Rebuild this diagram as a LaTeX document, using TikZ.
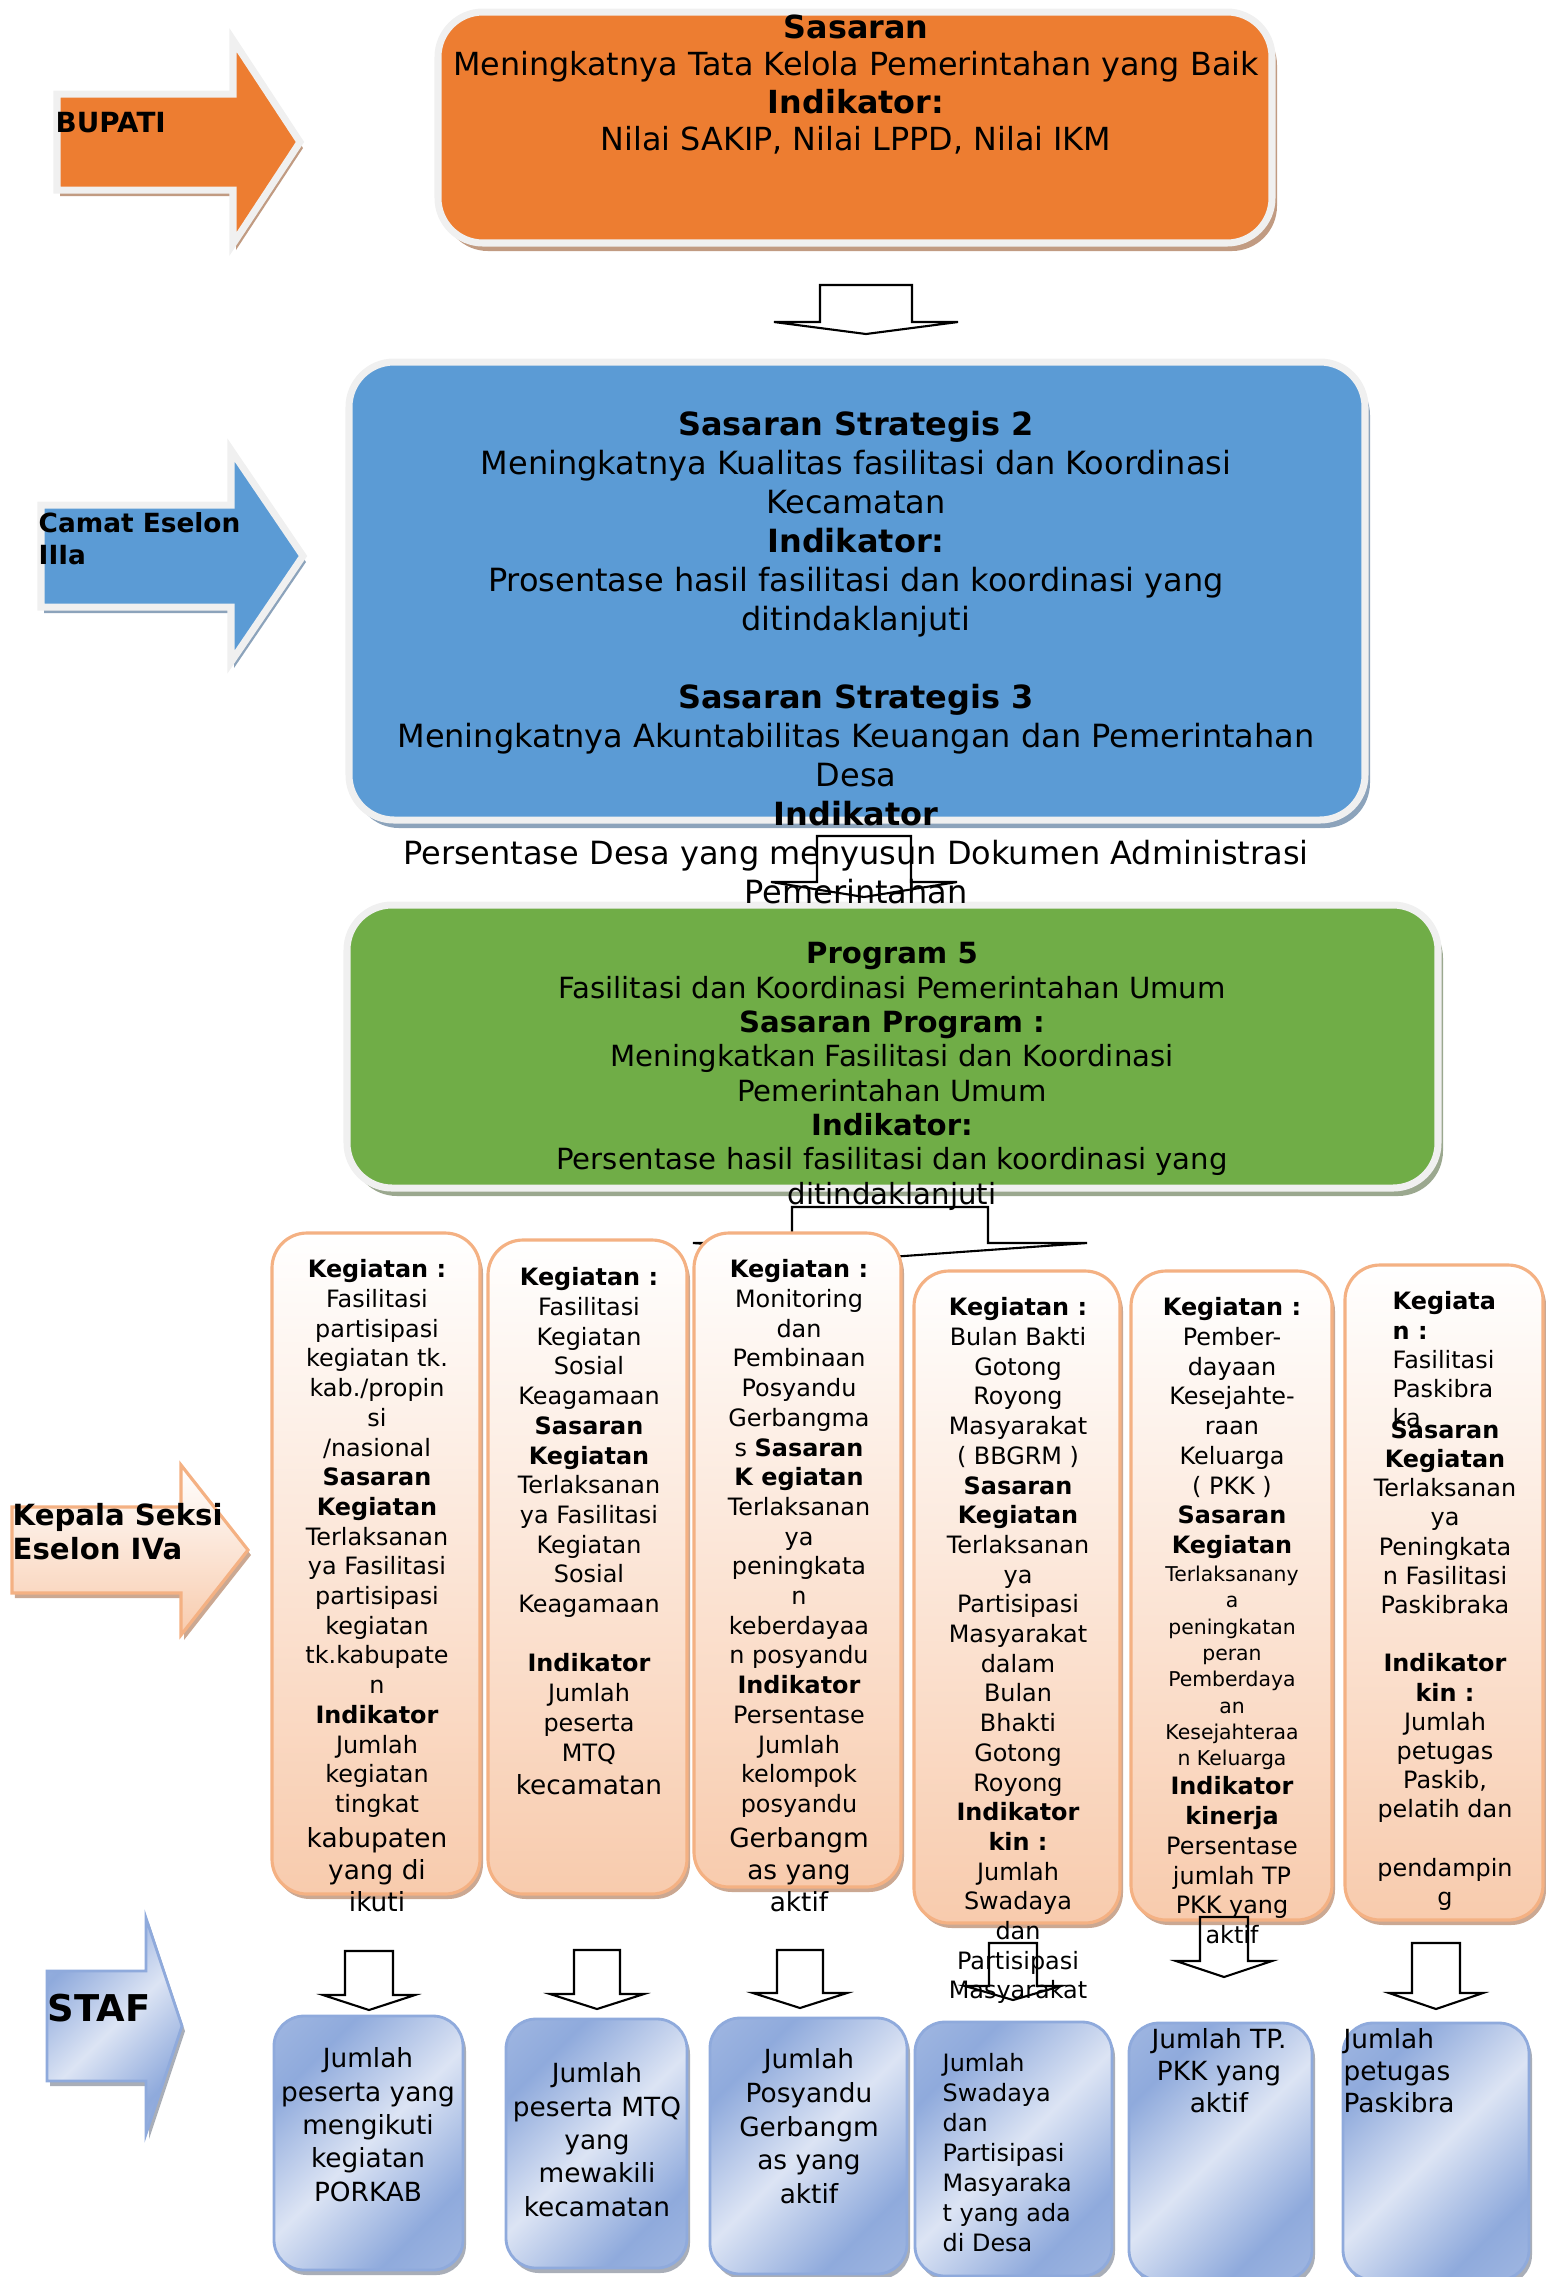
\documentclass[tikz,border=0pt]{standalone}
\usepackage{fontspec}
\setmainfont{DejaVu Sans}
\usetikzlibrary{shadows}

\definecolor{oranye}{HTML}{ED7D31}
\definecolor{oranyebayang}{HTML}{C19B82}
\definecolor{biru}{HTML}{5B9BD5}
\definecolor{birubayang}{HTML}{8CA3BB}
\definecolor{hijau}{HTML}{70AD47}
\definecolor{hijaubayang}{HTML}{9BA88F}
\definecolor{tepi}{HTML}{F0F0F0}
\definecolor{persik}{HTML}{F8CBAD}
\definecolor{persikgaris}{HTML}{F4B183}
\definecolor{persikbayang}{HTML}{CBA892}
\definecolor{stafgelap}{HTML}{8FAADC}
\definecolor{stafterang}{HTML}{DCE4F4}
\definecolor{stafbayang}{HTML}{A9AEB8}

\pgfdeclarehorizontalshading{stafshade}{100bp}{%
  color(0bp)=(stafgelap!55!stafterang); color(28bp)=(stafgelap);
  color(50bp)=(stafterang); color(72bp)=(stafgelap);
  color(100bp)=(stafgelap!55!stafterang)}

\newcommand{\ukuran}[2]{\fontsize{#1}{#2}\selectfont}
\newcommand{\besar}{\ukuran{7.5}{9}}
\newcommand{\kecil}{\ukuran{5.8}{7.5}}

% hollow block arrow pointing down: centre x, stem top, head base, tip, stem half width, head half width
\newcommand{\hollowdown}[6]{%
  \draw[garispanah] (#1-#5,#2) -- (#1+#5,#2) -- (#1+#5,#3) -- (#1+#6,#3)
    -- (#1,#4) -- (#1-#6,#3) -- (#1-#5,#3) -- cycle;}
% side arrow: style, body left, head start, tip, centre y, body half height, head half height
\newcommand{\sidearrow}[7]{%
  \draw[#1] (#2,#5-#6) -- (#3,#5-#6) -- (#3,#5-#7) -- (#4,#5)
    -- (#3,#5+#7) -- (#3,#5+#6) -- (#2,#5+#6) -- cycle;}

\tikzset{
  kotakbesar/.style={rectangle, rounded corners=4.5mm, draw=tepi, line width=2pt, inner sep=0pt},
  kotaksasaran/.style={kotakbesar, fill=oranye,
    drop shadow={shadow xshift=0.5mm, shadow yshift=-0.8mm, fill=oranyebayang, opacity=1}},
  kotakstrategis/.style={kotakbesar, fill=biru,
    drop shadow={shadow xshift=0.5mm, shadow yshift=-0.8mm, fill=birubayang, opacity=1}},
  kotakprogram/.style={kotakbesar, fill=hijau,
    drop shadow={shadow xshift=0.5mm, shadow yshift=-0.8mm, fill=hijaubayang, opacity=1}},
  kotakkegiatan/.style={rectangle, rounded corners=3.5mm, draw=persikgaris, line width=0.9pt,
    top color=white, bottom color=persik, inner sep=0pt,
    drop shadow={shadow xshift=0.3mm, shadow yshift=-0.5mm, fill=persikbayang, opacity=1}},
  kotakstaf/.style={rectangle, rounded corners=3mm, draw=stafgelap, line width=0.8pt,
    shade, shading=stafshade, shading angle=-45, inner sep=0pt,
    drop shadow={shadow xshift=0.3mm, shadow yshift=-0.5mm, fill=stafbayang, opacity=1}},
  panahbupati/.style={fill=oranye, draw=tepi, line width=2pt,
    drop shadow={shadow xshift=0.3mm, shadow yshift=-0.6mm, fill=oranyebayang, opacity=1}},
  panahcamat/.style={fill=biru, draw=tepi, line width=2pt,
    drop shadow={shadow xshift=0.3mm, shadow yshift=-0.6mm, fill=birubayang, opacity=1}},
  panahkasi/.style={top color=white, bottom color=persik, draw=persikgaris, line width=0.9pt,
    drop shadow={shadow xshift=0.3mm, shadow yshift=-0.5mm, fill=persikbayang, opacity=1}},
  panahstaf/.style={shade, shading=stafshade, shading angle=-45, draw=stafgelap, line width=0.8pt,
    drop shadow={shadow xshift=0.3mm, shadow yshift=-0.5mm, fill=stafbayang, opacity=1}},
  garispanah/.style={draw=black, line width=0.6pt},
  jabatan/.style={inner sep=0pt, align=left, anchor=north west},
  isi/.style={inner sep=0pt, align=center, anchor=north},
  isikiri/.style={inner sep=0pt, align=left, anchor=north west},
}

\begin{document}
\begin{tikzpicture}[x=0.1mm, y=-0.1mm]
  \useasboundingbox (0,0) rectangle (1546,2277);

  % arrows of the officials
  \sidearrow{panahbupati}{57}{233}{300}{142}{48}{102}
  \sidearrow{panahcamat}{41}{231}{303}{556}{51}{106}
  \sidearrow{panahkasi}{12}{181}{248}{1550}{43}{85}
  \sidearrow{panahstaf}{47}{146}{182}{2026}{55}{108}

  \node[jabatan, font={\bfseries\ukuran{7.9}{9}}] (bupati) at (55,112) {BUPATI};
  \node[jabatan, font={\bfseries\ukuran{7.5}{9}}] (camat) at (38,512) {Camat Eselon\\IIIa};
  \node[jabatan, font={\bfseries\ukuran{8.3}{9.5}}] (kasi) at (12,1503) {Kepala Seksi\\Eselon IVa};
  \node[jabatan, font={\bfseries\ukuran{10.5}{12}}] (staf) at (47,1993) {STAF};

  % sasaran bupati
  \node[kotaksasaran, minimum width=83.4mm, minimum height=23.1mm] (sasaran) at (855,127.5) {};
  \node[isi, font={\ukuran{9.05}{10.67}}] (sasaran-isi) at (856,14)
    {\textbf{Sasaran}\\ Meningkatnya Tata Kelola Pemerintahan yang Baik\\
     \textbf{Indikator:}\\ Nilai SAKIP, Nilai LPPD, Nilai IKM};
  \hollowdown{866}{285}{322}{334}{46}{92}

  % sasaran strategis and program boxes
  \node[kotakstrategis, minimum width=101.6mm, minimum height=45.8mm] (strategis) at (857,591) {};
  \node[kotakprogram, minimum width=109.1mm, minimum height=28.3mm] (program) at (892.5,1046.5) {};

  \node[isi, font={\ukuran{9.1}{11.1}}] (strategis-isi) at (856,410)
    {\textbf{Sasaran Strategis 2}\\ Meningkatnya Kualitas fasilitasi dan Koordinasi\\ Kecamatan\\
     \textbf{Indikator:}\\ Prosentase hasil fasilitasi dan koordinasi yang\\ ditindaklanjuti\\ \\
     \textbf{Sasaran Strategis 3}\\ Meningkatnya Akuntabilitas Keuangan dan Pemerintahan\\ Desa\\
     \textbf{Indikator}\\ Persentase Desa yang menyusun Dokumen Administrasi\\ Pemerintahan};
  \hollowdown{864}{836}{882}{897}{47}{93}

  \node[isi, font={\ukuran{8.3}{9.76}}] (program-isi) at (892,942)
    {\textbf{Program 5}\\ Fasilitasi dan Koordinasi Pemerintahan Umum\\ \textbf{Sasaran Program :}\\
     Meningkatkan Fasilitasi dan Koordinasi\\ Pemerintahan Umum\\ \textbf{Indikator:}\\
     Persentase hasil fasilitasi dan koordinasi yang\\ ditindaklanjuti};
  \hollowdown{890}{1207}{1243}{1257}{98}{197}

  % kegiatan
  \node[kotakkegiatan, minimum width=20.8mm, minimum height=66.1mm] (keg1) at (376,1563.5) {};
  \node[kotakkegiatan, minimum width=19.9mm, minimum height=65.4mm] (keg2) at (587.5,1567) {};
  \node[kotakkegiatan, minimum width=20.7mm, minimum height=65.4mm] (keg3) at (797.5,1560) {};
  \node[kotakkegiatan, minimum width=20.6mm, minimum height=65.2mm] (keg4) at (1017,1597) {};
  \node[kotakkegiatan, minimum width=20.1mm, minimum height=64.9mm] (keg5) at (1231.5,1595.5) {};
  \node[kotakkegiatan, minimum width=19.8mm, minimum height=65.5mm] (keg6) at (1444,1592.5) {};

  \node[isi, font={\ukuran{6.8}{8.45}}] (keg1-isi) at (377,1259)
    {\textbf{Kegiatan :}\\ Fasilitasi\\ partisipasi\\ kegiatan tk.\\ kab./propin\\ si\\ /nasional\\
     \textbf{Sasaran}\\ \textbf{Kegiatan}\\ Terlaksanan\\ ya Fasilitasi\\ partisipasi\\ kegiatan\\
     tk.kabupate\\ n\\ \textbf{Indikator}\\ Jumlah\\ kegiatan\\ tingkat\\[1.4pt]
     \besar kabupaten\\[0.8pt] \besar yang di\\[0.6pt] \besar ikuti};
  \node[isi, font={\ukuran{6.8}{8.45}}] (keg2-isi) at (589,1267)
    {\textbf{Kegiatan :}\\ Fasilitasi\\ Kegiatan\\ Sosial\\ Keagamaan\\ \textbf{Sasaran}\\
     \textbf{Kegiatan}\\ Terlaksanan\\ ya Fasilitasi\\ Kegiatan\\ Sosial\\ Keagamaan\\ \\
     \textbf{Indikator}\\ Jumlah\\ peserta\\ MTQ\\[1.2pt] \besar kecamatan};
  \node[isi, font={\ukuran{6.8}{8.45}}] (keg3-isi) at (799,1259)
    {\textbf{Kegiatan :}\\ Monitoring\\ dan\\ Pembinaan\\ Posyandu\\ Gerbangma\\ s \textbf{Sasaran}\\
     \textbf{K egiatan}\\ Terlaksanan\\ ya\\ peningkata\\ n\\ keberdayaa\\ n posyandu\\
     \textbf{Indikator}\\ Persentase\\ Jumlah\\ kelompok\\ posyandu\\[1.4pt]
     \besar Gerbangm\\[0.8pt] \besar as yang\\[0.6pt] \besar aktif};
  \node[isi, font={\ukuran{6.8}{8.45}}] (keg4-isi) at (1018,1297)
    {\textbf{Kegiatan :}\\ Bulan Bakti\\ Gotong\\ Royong\\ Masyarakat\\ ( BBGRM )\\
     \textbf{Sasaran}\\ \textbf{Kegiatan}\\ Terlaksanan\\ ya\\ Partisipasi\\ Masyarakat\\ dalam\\
     Bulan\\ Bhakti\\ Gotong\\ Royong\\ \textbf{Indikator}\\ \textbf{kin :}\\ Jumlah\\ Swadaya\\
     dan\\ Partisipasi\\ Masyarakat};
  \node[isi, font={\ukuran{6.8}{8.45}}] (keg5-isi) at (1232,1297)
    {\textbf{Kegiatan :}\\ Pember-\\ dayaan\\ Kesejahte-\\ raan\\ Keluarga\\ ( PKK )\\
     \textbf{Sasaran}\\ \textbf{Kegiatan}\\[-0.5pt] \kecil Terlaksanany\\[-0.95pt] \kecil a\\[-0.95pt]
     \kecil peningkatan\\[-0.95pt] \kecil peran\\[-0.95pt] \kecil Pemberdaya\\[-0.95pt] \kecil an\\[-0.95pt]
     \kecil Kesejahteraa\\[-0.95pt] \kecil n Keluarga\\[-0.2pt] \textbf{Indikator}\\ \textbf{kinerja}\\
     Persentase\\ jumlah TP\\ PKK yang\\ aktif};
  \node[isikiri, font={\ukuran{6.8}{8.3}}] (keg6-judul) at (1392,1291)
    {\textbf{Kegiata}\\ \textbf{n :}\\ Fasilitasi\\ Paskibra\\ ka};
  \node[isi, font={\ukuran{6.8}{8.3}}] (keg6-isi) at (1445,1420)
    {\textbf{Sasaran}\\ \textbf{Kegiatan}\\ Terlaksanan\\ ya\\ Peningkata\\ n Fasilitasi\\ Paskibraka\\ \\
     \textbf{Indikator}\\ \textbf{kin :}\\ Jumlah\\ petugas\\ Paskib,\\ pelatih dan\\ \\ pendampin\\ g};

  % arrows to staf
  \hollowdown{369}{1951}{1995}{2010}{24}{46}
  \hollowdown{597}{1950}{1994}{2009}{23}{47}
  \hollowdown{800}{1950}{1993}{2008}{23}{47}
  \hollowdown{1013}{1943}{1986}{2000}{24}{48}
  \hollowdown{1224}{1917}{1961}{1977}{24}{48}
  \hollowdown{1436}{1943}{1993}{2009}{24}{47}

  % staf
  \node[kotakstaf, minimum width=18.9mm, minimum height=25.4mm] (staf1) at (368.5,2143) {};
  \node[kotakstaf, minimum width=18.1mm, minimum height=24.9mm] (staf2) at (596.5,2143.5) {};
  \node[kotakstaf, minimum width=19.7mm, minimum height=25.6mm] (staf3) at (808.5,2146) {};
  \node[kotakstaf, minimum width=19.7mm, minimum height=25.4mm] (staf4) at (1013.5,2149) {};
  \node[kotakstaf, minimum width=18.3mm, minimum height=25.7mm] (staf5) at (1220.5,2151.5) {};
  \node[kotakstaf, minimum width=18.6mm, minimum height=25.7mm] (staf6) at (1436,2151.5) {};

  \node[isi, font={\ukuran{7.5}{9.5}}] (staf1-isi) at (368,2047)
    {Jumlah\\ peserta yang\\ mengikuti\\ kegiatan\\ PORKAB};
  \node[isi, font={\ukuran{7.5}{9.5}}] (staf2-isi) at (597,2062)
    {Jumlah\\ peserta MTQ\\ yang\\ mewakili\\ kecamatan};
  \node[isi, font={\ukuran{7.5}{9.6}}] (staf3-isi) at (809,2048)
    {Jumlah\\ Posyandu\\ Gerbangm\\ as yang\\ aktif};
  \node[isikiri, font={\ukuran{6.8}{8.5}}] (staf4-isi) at (942,2053)
    {Jumlah\\ Swadaya\\ dan\\ Partisipasi\\ Masyaraka\\ t yang ada\\ di Desa};
  \node[isi, font={\ukuran{7.5}{9.1}}] (staf5-isi) at (1219,2028)
    {Jumlah TP.\\ PKK yang\\ aktif};
  \node[isikiri, font={\ukuran{7.5}{9.1}}] (staf6-isi) at (1343,2028)
    {Jumlah\\ petugas\\ Paskibra};
\end{tikzpicture}
\end{document}
